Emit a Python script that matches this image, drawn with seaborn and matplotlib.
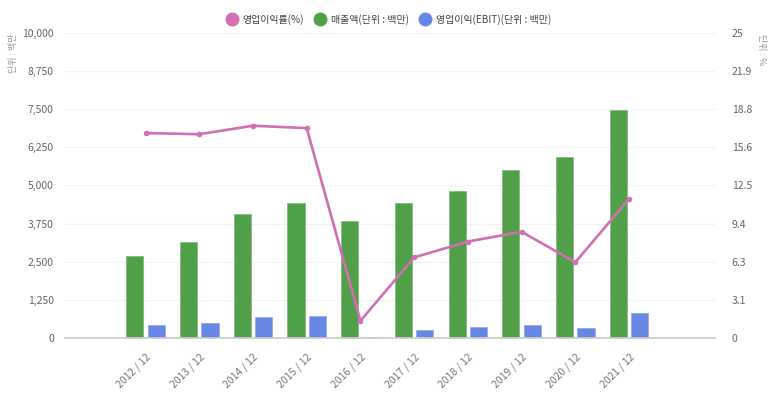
import matplotlib
matplotlib.use("Agg")
import matplotlib.pyplot as plt
from matplotlib.lines import Line2D
import numpy as np
import pandas as pd
import seaborn as sns

# 데이터
periods = ["2012 / 12", "2013 / 12", "2014 / 12", "2015 / 12", "2016 / 12",
           "2017 / 12", "2018 / 12", "2019 / 12", "2020 / 12", "2021 / 12"]
sales = [2690, 3160, 4055, 4440, 3840, 4415, 4810, 5520, 5925, 7475]
ebit = [415, 490, 680, 730, 20, 262, 350, 437, 328, 830]
margin = [16.8, 16.7, 17.4, 17.2, 1.4, 6.6, 7.9, 8.7, 6.2, 11.4]
left_ticks = [0, 1250, 2500, 3750, 5000, 6250, 7500, 8750, 10000]
right_ticks = [0, 3.125, 6.25, 9.375, 12.5, 15.625, 18.75, 21.875, 25]
right_labels = ["0", "3.1", "6.3", "9.4", "12.5", "15.6", "18.8", "21.9", "25"]

name_sales = "매출액(단위 : 백만)"
name_ebit = "영업이익(EBIT)(단위 : 백만)"
name_margin = "영업이익률(%)"

c_green = "#50a04a"
c_blue = "#6787e5"
c_pink = "#d06fb3"
c_text = "#666666"

sns.set_theme(style="white")
plt.rcParams["font.family"] = ["Noto Sans CJK KR", "DejaVu Sans"]

df = pd.DataFrame({
    "period": periods * 2,
    "value": sales + ebit,
    "series": [name_sales] * len(periods) + [name_ebit] * len(periods),
})

fig = plt.figure(figsize=(7.73, 3.98), dpi=100)
ax = fig.add_axes([0.084, 0.151, 0.841, 0.766])

sns.barplot(data=df, x="period", y="value", hue="series", order=periods,
            hue_order=[name_sales, name_ebit],
            palette=[c_green, c_blue], width=0.8, gap=0.2,
            ax=ax, legend=False, saturation=1, edgecolor="white", linewidth=0.6)
for p, col in zip(ax.patches, [c_green] * 10 + [c_blue] * 10):
    p.set_edgecolor(sns.light_palette(col, 4)[2])

ax.set_xlim(-1.5, 10.6)
ax.set_ylim(0, 10000)
ax.set_yticks(left_ticks)
ax.set_yticklabels([f"{v:,}" for v in left_ticks])
ax.grid(axis="y", color="#f2f2f2", linewidth=0.8)
ax.set_axisbelow(True)
for s in ["top", "right", "left"]:
    ax.spines[s].set_visible(False)
ax.spines["bottom"].set_color("#cccccc")
ax.set_xlabel("")
ax.set_ylabel("")
ax.tick_params(axis="y", length=0, pad=8, labelsize=7.5, labelcolor=c_text)
ax.tick_params(axis="x", length=0, pad=10, labelsize=7.5, labelcolor="#777777")
plt.setp(ax.get_xticklabels(), rotation=45, ha="right", rotation_mode="anchor")

ax2 = ax.twinx()
sns.lineplot(x=np.arange(len(periods)), y=margin, ax=ax2, color=c_pink,
             linewidth=1.9, marker="o", markersize=4, markeredgewidth=0)
ax2.set_ylim(0, 25)
ax2.set_yticks(right_ticks)
ax2.set_yticklabels(right_labels)
for s in ["top", "right", "left", "bottom"]:
    ax2.spines[s].set_visible(False)
ax2.tick_params(axis="y", length=0, pad=12, labelsize=7.5, labelcolor=c_text)
ax2.grid(False)

fig.text(0.017, 0.915, "단위 : 백만", rotation=90, ha="center", va="top",
         fontsize=6.5, color="#999999")
fig.text(0.985, 0.915, "단위 : %", rotation=270, ha="center", va="top",
         fontsize=6.5, color="#999999")

handles = [Line2D([], [], linestyle="", marker="o", markersize=9, color=c)
           for c in [c_pink, c_green, c_blue]]
fig.legend(handles, [name_margin, name_sales, name_ebit], loc="center",
           bbox_to_anchor=(0.5, 0.952), ncol=3, frameon=False, fontsize=7.2,
           handletextpad=0.1, columnspacing=0.6, labelcolor="#444444")

fig.savefig("out.png", dpi=100)
